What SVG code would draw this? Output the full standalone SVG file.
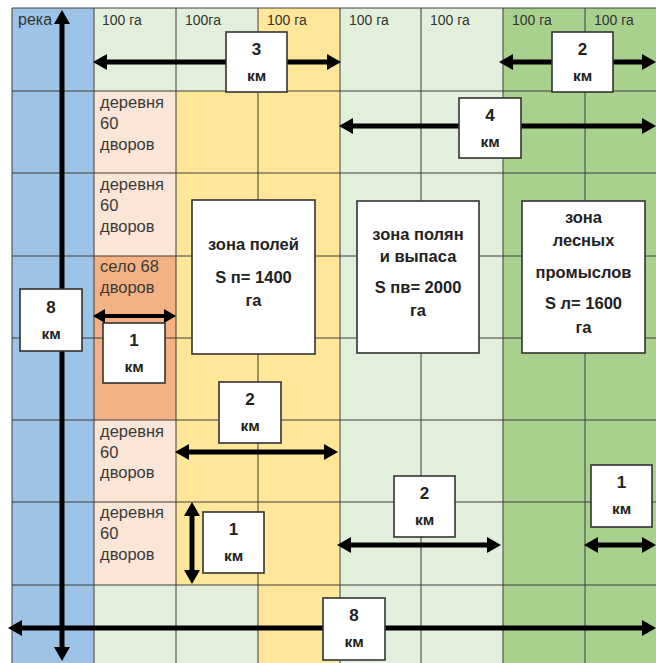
<svg xmlns="http://www.w3.org/2000/svg" width="656" height="663" viewBox="0 0 656 663">
<style>
.grid{stroke:#3f3f3f;stroke-width:1;fill:none}
.top{font-family:"Liberation Sans",Arial,sans-serif;font-size:14px;fill:#333}
.river{font-family:"Liberation Sans",Arial,sans-serif;font-size:16px;fill:#333}
.vil{font-family:"Liberation Sans",Arial,sans-serif;font-size:16.5px;fill:#3a3a3a}
.box{fill:#fff;stroke:#333;stroke-width:1.6}
.num{font-family:"Liberation Sans",Arial,sans-serif;font-size:17px;font-weight:bold;fill:#222;text-anchor:middle}
.km{font-family:"Liberation Sans",Arial,sans-serif;font-size:15.5px;font-weight:bold;fill:#222;text-anchor:middle}
.zone{font-family:"Liberation Sans",Arial,sans-serif;font-size:16.5px;font-weight:bold;fill:#222;text-anchor:middle}
.arr{stroke:#000;stroke-width:5;fill:none;marker-start:url(#ah);marker-end:url(#ah)}
.arrs{stroke:#000;stroke-width:4;fill:none;marker-start:url(#ahs);marker-end:url(#ahs)}
</style>
<defs>
<marker id="ah" markerUnits="userSpaceOnUse" markerWidth="14" markerHeight="16" refX="0" refY="8" orient="auto-start-reverse" viewBox="0 0 14 16">
<path d="M0,0 L14,8 L0,16 z" fill="#000"/>
</marker>
<marker id="ahs" markerUnits="userSpaceOnUse" markerWidth="12" markerHeight="14" refX="0" refY="7" orient="auto-start-reverse" viewBox="0 0 12 14">
<path d="M0,0 L12,7 L0,14 z" fill="#000"/>
</marker>
</defs>
<rect width="656" height="663" fill="#fff"/>
<g id="background">
<rect x="12" y="8" width="82" height="655" fill="#9dc3e6"/>
<rect x="94" y="8" width="82" height="83" fill="#e2efda"/>
<rect x="94" y="91" width="82" height="165" fill="#fbe5d6"/>
<rect x="94" y="256" width="82" height="164" fill="#f4b183"/>
<rect x="94" y="420" width="82" height="165" fill="#fbe5d6"/>
<rect x="94" y="585" width="82" height="78" fill="#e2efda"/>
<rect x="176" y="8" width="82" height="83" fill="#e2efda"/>
<rect x="176" y="91" width="82" height="494" fill="#ffe699"/>
<rect x="176" y="585" width="82" height="78" fill="#e2efda"/>
<rect x="258" y="8" width="82" height="655" fill="#ffe699"/>
<rect x="340" y="8" width="163" height="655" fill="#e2efda"/>
<rect x="503" y="8" width="153" height="655" fill="#a9d18e"/>
</g>
<g id="grid" class="grid">
<path d="M12,8V663M94,8V663M176,8V663M258,8V663M340,8V663M421,8V663M503,8V663M585,8V663"/>
<path d="M12,8H656M12,91H656M12,173H656M12,256H656M12,338H656M12,420H656M12,502H656M12,585H656"/>
</g>
<g id="labels">
<text class="river" x="18" y="25">река</text>
<text class="top" x="102" y="25">100 га</text>
<text class="top" x="185" y="25">100га</text>
<text class="top" x="267" y="25">100 га</text>
<text class="top" x="349" y="25">100 га</text>
<text class="top" x="430" y="25">100 га</text>
<text class="top" x="512" y="25">100 га</text>
<text class="top" x="594" y="25">100 га</text>
</g>
<g id="villages">
<g id="village1"><text class="vil" x="100" y="108">деревня</text><text class="vil" x="100" y="129">60</text><text class="vil" x="100" y="150">дворов</text></g>
<g id="village2"><text class="vil" x="100" y="190">деревня</text><text class="vil" x="100" y="211">60</text><text class="vil" x="100" y="232">дворов</text></g>
<g id="selo"><text class="vil" x="100" y="272">село 68</text><text class="vil" x="100" y="293">дворов</text></g>
<g id="village3"><text class="vil" x="100" y="437">деревня</text><text class="vil" x="100" y="458">60</text><text class="vil" x="100" y="478">дворов</text></g>
<g id="village4"><text class="vil" x="100" y="518">деревня</text><text class="vil" x="100" y="539">60</text><text class="vil" x="100" y="560">дворов</text></g>
</g>
<g id="connectors">
<path class="arr" d="M62,24V647"/>
<path class="arr" d="M107,62H327"/>
<path class="arr" d="M513,62H642"/>
<path class="arr" d="M353,126H642"/>
<path class="arrs" d="M105,316H164"/>
<path class="arr" d="M189,452H324"/>
<path class="arr" d="M192,516V570"/>
<path class="arr" d="M351,545H487"/>
<path class="arr" d="M598,545H642"/>
<path class="arr" d="M22,628H642"/>
</g>
<g id="zone-fields">
<rect class="box" x="192" y="200" width="123" height="154"/>
<text class="zone" x="253.5" y="250">зона полей</text>
<text class="zone" x="253.5" y="283">S п= 1400</text>
<text class="zone" x="253.5" y="306">га</text>
</g>
<g id="zone-meadows">
<rect class="box" x="357" y="201" width="122" height="152"/>
<text class="zone" x="418" y="240">зона полян</text>
<text class="zone" x="418" y="262">и выпаса</text>
<text class="zone" x="418" y="293">S пв= 2000</text>
<text class="zone" x="418" y="316">га</text>
</g>
<g id="zone-forest">
<rect class="box" x="522" y="201" width="123" height="152"/>
<text class="zone" x="583.5" y="223">зона</text>
<text class="zone" x="583.5" y="246">лесных</text>
<text class="zone" x="583.5" y="278">промыслов</text>
<text class="zone" x="583.5" y="309">S л= 1600</text>
<text class="zone" x="583.5" y="333">га</text>
</g>
<g id="km3"><rect class="box" x="226" y="32" width="61" height="60"/><text class="num" x="256.5" y="55">3</text><text class="km" x="256.5" y="81">км</text></g>
<g id="km2-top"><rect class="box" x="552" y="32" width="61" height="60"/><text class="num" x="582.5" y="55">2</text><text class="km" x="582.5" y="81">км</text></g>
<g id="km4"><rect class="box" x="459" y="98" width="62" height="60"/><text class="num" x="490" y="121">4</text><text class="km" x="490" y="147">км</text></g>
<g id="km8-left"><rect class="box" x="20" y="289" width="62" height="62"/><text class="num" x="51" y="313">8</text><text class="km" x="51" y="339">км</text></g>
<g id="km1-selo"><rect class="box" x="103" y="323" width="62" height="60"/><text class="num" x="134" y="346">1</text><text class="km" x="134" y="372">км</text></g>
<g id="km2-mid"><rect class="box" x="219" y="382" width="62" height="61"/><text class="num" x="250" y="405">2</text><text class="km" x="250" y="431">км</text></g>
<g id="km1-vert"><rect class="box" x="203" y="512" width="61" height="61"/><text class="num" x="233.5" y="535">1</text><text class="km" x="233.5" y="561">км</text></g>
<g id="km2-low"><rect class="box" x="394" y="476" width="61" height="61"/><text class="num" x="424.5" y="499">2</text><text class="km" x="424.5" y="525">км</text></g>
<g id="km1-right"><rect class="box" x="591" y="465" width="61" height="62"/><text class="num" x="621.5" y="488">1</text><text class="km" x="621.5" y="514">км</text></g>
<g id="km8-bottom"><rect class="box" x="323" y="598" width="62" height="62"/><text class="num" x="354" y="621">8</text><text class="km" x="354" y="647">км</text></g>
</svg>
